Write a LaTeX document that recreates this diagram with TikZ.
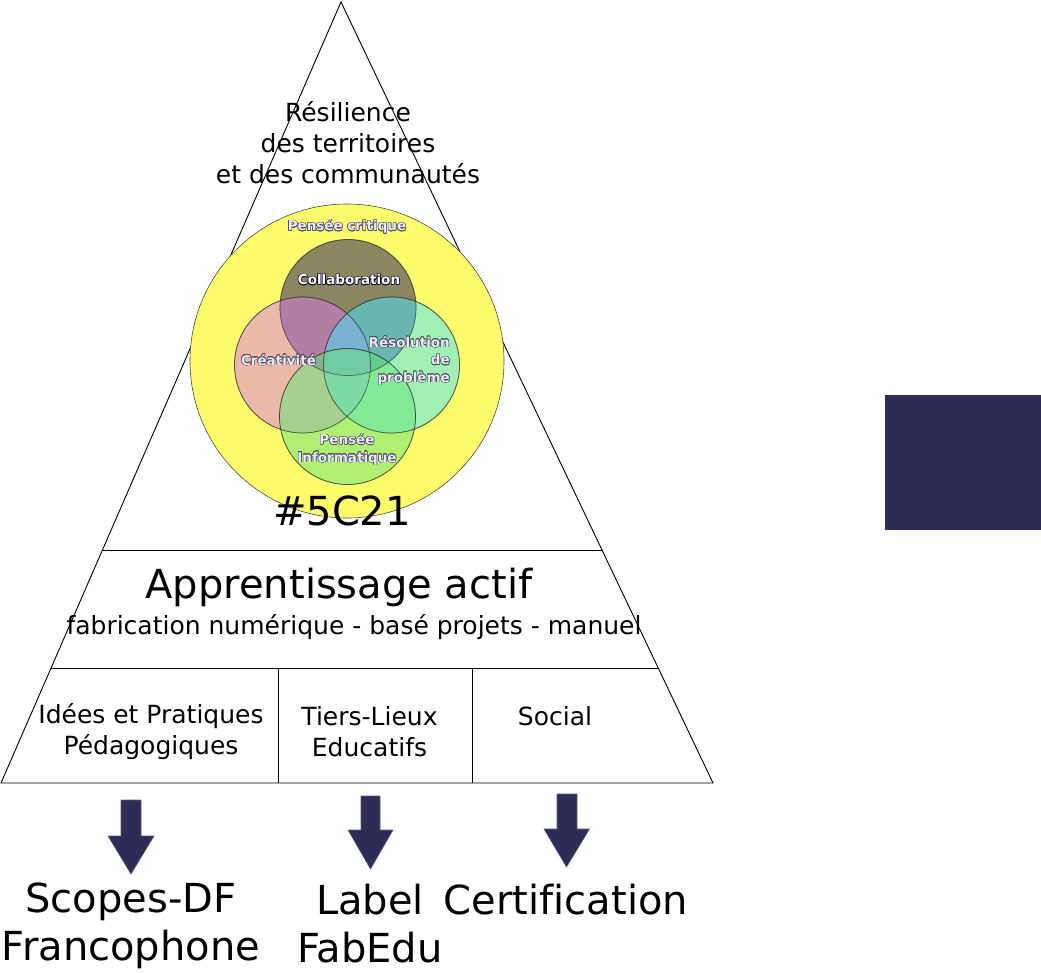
\documentclass[tikz,border=0pt]{standalone}
\usepackage{fontspec}
\setmainfont{DejaVu Sans}[Ligatures=NoCommon]
\usepackage{contour}
\contourlength{0.5pt}
\definecolor{navy}{RGB}{44,44,86}
\definecolor{navyedge}{RGB}{90,90,130}
\definecolor{bigyellow}{RGB}{251,251,108}
\definecolor{collabc}{RGB}{25,19,86}
\definecolor{creatc}{RGB}{220,120,230}
\definecolor{resc}{RGB}{70,230,255}
\definecolor{pic}{RGB}{101,229,118}
\definecolor{labfill}{RGB}{236,234,248}
\definecolor{labedge}{RGB}{80,80,95}
\tikzset{
  frame/.style={draw=black, line width=0.9pt},
  venn/.style={draw=black!80, draw opacity=0.6, line width=0.7pt, fill opacity=0.5},
  midtext/.style={font=\fontsize{25}{31}\selectfont, align=center, inner sep=0pt},
  bigtext/.style={font=\fontsize{40}{48}\selectfont, align=center, inner sep=0pt},
  venntext/.style={font=\fontsize{13.5}{17.5}\selectfont\bfseries, text=labfill, inner sep=0pt},
  blockarrow/.style={fill=navy, draw=navyedge, line width=0.6pt},
}
\begin{document}
\begin{tikzpicture}[x=1pt,y=-1pt]
\useasboundingbox (0,0) rectangle (1041,972);
% pyramid
\draw[frame] (341,2) -- (713,783) -- (1,783) -- cycle;
\draw[frame] (102.4,550) -- (602.2,550);
\draw[frame] (51,668) -- (658.3,668);
\draw[frame] (278,668) -- (278,783);
\draw[frame] (472,668) -- (472,783);
% circles
\draw[draw=black!70, line width=0.6pt, fill=bigyellow] (347,361) circle[radius=157];
\fill[venn, fill=collabc] (348,307.5) circle[radius=68];
\fill[venn, fill=creatc] (302.5,365) circle[radius=68];
\fill[venn, fill=resc] (391.5,365) circle[radius=68];
\fill[venn, fill=pic] (347.5,416.5) circle[radius=68];
\draw[venn, fill=none] (348,307.5) circle[radius=68];
\draw[venn, fill=none] (302.5,365) circle[radius=68];
\draw[venn, fill=none] (391.5,365) circle[radius=68];
\draw[venn, fill=none] (347.5,416.5) circle[radius=68];
% venn labels
\node[venntext] (crit) at (347,227) {\contour{labedge}{Pensée critique}};
\node[venntext, text=white] (collab) at (349,280) {\contour{collabc!60!black}{Collaboration}};
\node[venntext] (creat) at (278.5,360) {\contour{labedge}{Créativité}};
\node[venntext, align=right, anchor=east] (res) at (450,361) {\contour{labedge}{Résolution}\\\contour{labedge}{de}\\\contour{labedge}{problème}};
\node[venntext, align=center] (pinf) at (347,449.5) {\contour{labedge}{Pensée}\\\contour{labedge}{Informatique}};
% texts
\node[bigtext] (tag) at (342,511) {\#5C21};
\node[midtext] (resil) at (348,143) {Résilience\\des territoires\\et des communautés};
\node[bigtext] (appr) at (339,587) {Apprentissage actif};
\node[midtext] (fab) at (354,627) {fabrication numérique - basé projets - manuel};
\node[midtext] (idees) at (151,731.5) {Idées et Pratiques\\Pédagogiques};
\node[midtext] (tiers) at (369.5,731.5) {Tiers-Lieux\\Educatifs};
\node[midtext] (social) at (555,716) {Social};
% arrows
\draw[blockarrow] (121,800) -- (141,800) -- (141,836) -- (154,836) -- (131,874) -- (108,836) -- (121,836) -- cycle;
\draw[blockarrow] (361,796) -- (380,796) -- (380,830) -- (393,830) -- (370.5,869) -- (348,830) -- (361,830) -- cycle;
\draw[blockarrow] (557,794) -- (577,794) -- (577,829) -- (589.5,829) -- (566.5,867) -- (544,829) -- (557,829) -- cycle;
% bottom labels
\node[bigtext] (scopes) at (131,926) {Scopes-DF\\Francophone};
\node[bigtext] (label) at (370,924) {Label\\FabEdu};
\node[bigtext] (certif) at (566,900) {Certification};
% right rectangle
\fill[navy] (885,395) rectangle (1041,530);
\end{tikzpicture}
\end{document}
